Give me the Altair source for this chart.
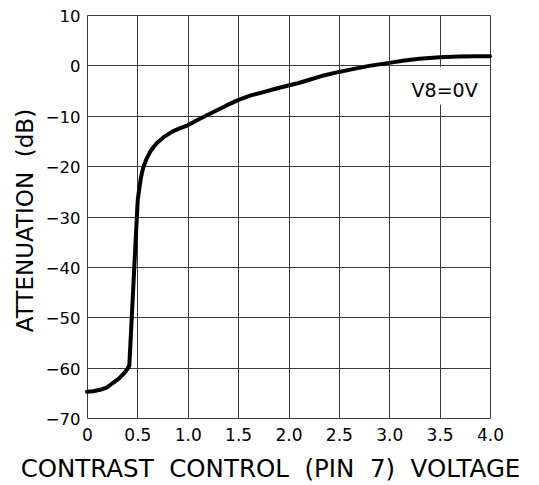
import altair as alt
import pandas as pd

# Curve
volt = [0, 0.06, 0.13, 0.2, 0.26, 0.31, 0.36, 0.39, 0.42, 0.5, 0.505, 0.519, 0.535,
        0.559, 0.59, 0.625, 0.66, 0.7, 0.757, 0.85, 0.92, 1.0, 1.12, 1.25, 1.38,
        1.51, 1.62, 1.75, 1.88, 2.0, 2.1, 2.2, 2.35, 2.5, 2.65, 2.8, 3.0, 3.15,
        3.3, 3.5, 3.7, 3.85, 4.0]
atten = [-64.8, -64.7, -64.4, -63.9, -63.0, -62.3, -61.3, -60.6, -59.6, -28.0, -26.5,
         -24.5, -22.3, -20.2, -18.6, -17.2, -16.2, -15.3, -14.3, -13.1, -12.5, -11.9,
         -10.6, -9.3, -8.0, -6.8, -6.0, -5.3, -4.6, -4.0, -3.5, -2.9, -2.0, -1.3,
         -0.7, -0.1, 0.5, 0.95, 1.3, 1.6, 1.75, 1.8, 1.8]

x_ticks = [0, 0.5, 1.0, 1.5, 2.0, 2.5, 3.0, 3.5, 4.0]
y_ticks = [-70, -60, -50, -40, -30, -20, -10, 0, 10]

label_text = ["V8=0V"]
label_x = [3.55]
label_y = [-5.0]
# white box behind the label (data units)
box_x = [3.2]
box_x2 = [3.9]
box_y = [-7.8]
box_y2 = [-0.25]

curve = pd.DataFrame({"v": volt, "a": atten})
lab = pd.DataFrame({"t": label_text, "x": label_x, "y": label_y})
box = pd.DataFrame({"x": box_x, "x2": box_x2, "y": box_y, "y2": box_y2})

FONT = "DejaVu Sans"
NB = "\u00a0\u00a0"

xscale = alt.Scale(domain=[0, 4], nice=False, zero=False)
yscale = alt.Scale(domain=[-70, 10], nice=False, zero=False)

xaxis = alt.Axis(
    values=x_ticks,
    labelExpr="datum.value == 0 ? '0' : format(datum.value, '.1f')",
    title=f"CONTRAST{NB}CONTROL{NB}(PIN{NB}7){NB}VOLTAGE",
    grid=True, gridColor="#3a3a3a", gridWidth=1, gridOpacity=1,
    ticks=False, domain=False, labelPadding=9, labelFlush=False,
    labelFontSize=17, labelFont=FONT, labelColor="black",
    titleFont=FONT, titleFontSize=24.5, titleFontWeight="normal", titleColor="black",
    titleX=183, titleY=51, titleBaseline="middle", titleAnchor="middle",
)
yaxis = alt.Axis(
    values=y_ticks, title=f"ATTENUATION{NB}(dB)",
    grid=True, gridColor="#3a3a3a", gridWidth=1, gridOpacity=1,
    ticks=False, domain=False, labelPadding=7, labelFlush=False, labelOffset=1.5,
    labelFontSize=16.5, labelFont=FONT, labelColor="black",
    titleFont=FONT, titleFontSize=23, titleFontWeight="normal", titleColor="black",
    titleX=-62, titleY=205, titleBaseline="middle", titleAngle=270,
)

rect = alt.Chart(box).mark_rect(color="white").encode(
    x=alt.X("x:Q", scale=xscale, axis=xaxis),
    x2="x2:Q",
    y=alt.Y("y:Q", scale=yscale, axis=yaxis),
    y2="y2:Q",
)

line = alt.Chart(curve).mark_line(
    color="black", strokeWidth=4, interpolate="linear", strokeJoin="round", strokeCap="round"
).encode(
    x=alt.X("v:Q", scale=xscale, axis=xaxis),
    y=alt.Y("a:Q", scale=yscale, axis=yaxis),
)

text = alt.Chart(lab).mark_text(font=FONT, fontSize=19, color="black").encode(
    x=alt.X("x:Q", scale=xscale, axis=xaxis),
    y=alt.Y("y:Q", scale=yscale, axis=yaxis),
    text="t:N",
)

chart = alt.layer(rect, line, text).properties(
    width=403, height=403,
    autosize=alt.AutoSizeParams(type="none"),
    padding={"left": 79, "top": 7, "right": 40, "bottom": 68},
).configure_view(
    stroke="black", strokeWidth=1.5
).configure(background="white")

chart.save("out.html", embed_options={"renderer": "svg", "actions": False})
